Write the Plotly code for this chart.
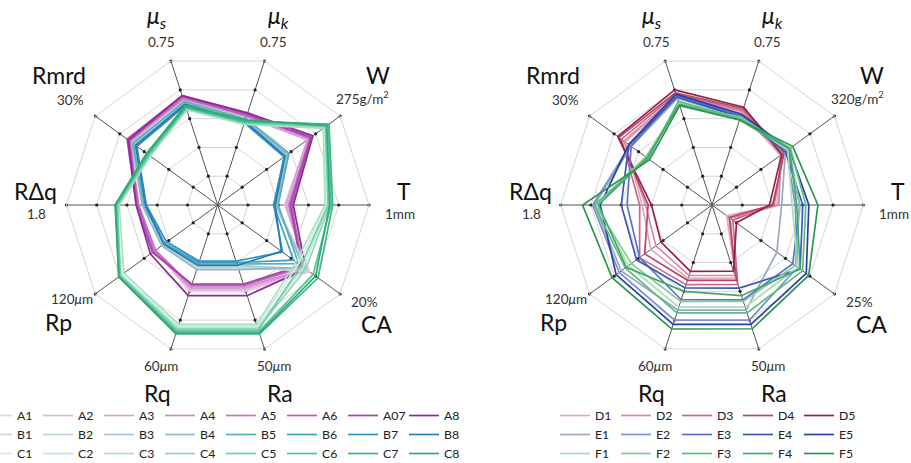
import plotly.graph_objects as go

# ---------------- data ----------------
AXES = ["mu_s", "mu_k", "W", "T", "CA", "Ra", "Rq", "Rp", "RDq", "Rmrd"]
AXIS_TITLES = ["<i>μ</i><sub><i>s</i></sub>", "<i>μ</i><sub><i>k</i></sub>", "W", "T", "CA",
               "Ra", "Rq", "Rp", "RΔq", "Rmrd"]

LEFT_MAX = [0.75, 0.75, 275, 1.0, 20, 50, 60, 120, 1.8, 30]
LEFT_MAX_LABELS = ["0.75", "0.75", "275g/m<sup>2</sup>", "1mm", "20%", "50<i>μ</i>m",
                   "60<i>μ</i>m", "120<i>μ</i>m", "1.8", "30%"]
RIGHT_MAX = [0.75, 0.75, 320, 1.0, 25, 50, 60, 120, 1.8, 30]
RIGHT_MAX_LABELS = ["0.75", "0.75", "320g/m<sup>2</sup>", "1mm", "25%", "50<i>μ</i>m",
                    "60<i>μ</i>m", "120<i>μ</i>m", "1.8", "30%"]

RING_LEVELS = [0.2, 0.4, 0.6, 0.8, 1.0]

# values in physical units, order of AXES
A1 = [0.550, 0.460, 203, 0.44, 15.0, 30.0, 36.0, 61, 0.94, 21.3]
A2 = [0.555, 0.465, 206, 0.46, 14.8, 29.5, 35.4, 62, 0.94, 21.6]
A3 = [0.550, 0.460, 201, 0.45, 14.6, 29.0, 34.8, 61, 0.95, 21.3]
A4 = [0.560, 0.465, 209, 0.47, 14.4, 28.5, 34.2, 62, 0.95, 21.6]
A5 = [0.555, 0.470, 206, 0.47, 14.0, 28.0, 33.6, 61, 0.94, 21.9]
A6 = [0.565, 0.465, 212, 0.49, 13.8, 27.8, 33.3, 63, 0.95, 21.6]
A07 = [0.570, 0.475, 209, 0.48, 13.6, 27.5, 33.0, 64, 0.97, 22.2]
A8 = [0.570, 0.480, 214, 0.50, 14.4, 31.5, 37.8, 66, 0.97, 21.9]

B1 = [0.525, 0.435, 157, 0.38, 15.0, 21.5, 25.8, 53, 0.86, 20.4]
B2 = [0.533, 0.443, 160, 0.39, 14.6, 22.0, 26.4, 54, 0.88, 20.7]
B3 = [0.525, 0.435, 154, 0.38, 14.4, 21.0, 25.2, 53, 0.86, 20.4]
B4 = [0.533, 0.443, 157, 0.39, 14.0, 22.5, 27.0, 55, 0.90, 21.0]
B5 = [0.540, 0.450, 160, 0.40, 13.2, 20.5, 24.6, 52, 0.88, 20.7]
B6 = [0.525, 0.435, 151, 0.37, 12.4, 20.0, 24.0, 52, 0.85, 20.1]
B7 = [0.518, 0.428, 149, 0.37, 10.6, 19.5, 23.4, 50, 0.85, 19.8]
B8 = [0.525, 0.435, 151, 0.38, 10.4, 21.0, 25.2, 53, 0.86, 20.1]

C1 = [0.503, 0.428, 239, 0.72, 13.2, 42.0, 50.4, 94, 1.19, 16.8]
C2 = [0.510, 0.435, 242, 0.73, 14.0, 42.5, 51.0, 95, 1.21, 17.1]
C3 = [0.495, 0.420, 237, 0.71, 12.8, 41.5, 49.8, 92, 1.17, 16.5]
C4 = [0.510, 0.435, 245, 0.74, 14.4, 43.0, 51.6, 95, 1.21, 17.1]
C5 = [0.503, 0.428, 242, 0.73, 13.6, 43.5, 52.2, 96, 1.19, 16.8]
C6 = [0.518, 0.443, 248, 0.75, 15.6, 44.0, 52.8, 96, 1.22, 17.4]
C7 = [0.510, 0.435, 250, 0.76, 16.4, 44.8, 53.7, 97, 1.21, 17.1]
C8 = [0.518, 0.443, 245, 0.74, 16.0, 44.5, 53.4, 97, 1.22, 17.4]

D1 = [0.563, 0.480, 179, 0.43, 3.00, 25.5, 30.6, 60, 0.83, 21.3]
D2 = [0.570, 0.488, 182, 0.44, 3.75, 24.5, 29.4, 55, 0.79, 21.6]
D3 = [0.578, 0.495, 186, 0.41, 4.25, 27.6, 33.2, 71, 0.86, 22.2]
D4 = [0.585, 0.503, 189, 0.40, 3.50, 26.2, 31.4, 66, 0.76, 22.8]
D5 = [0.600, 0.510, 182, 0.38, 5.00, 23.0, 27.7, 50, 0.72, 23.1]

E1 = [0.555, 0.458, 192, 0.46, 13.25, 36.5, 43.8, 89, 1.40, 19.8]
E2 = [0.563, 0.465, 195, 0.55, 17.50, 40.0, 48.0, 91, 1.42, 20.1]
E3 = [0.570, 0.465, 198, 0.58, 16.50, 33.0, 39.5, 71, 1.01, 19.8]
E4 = [0.563, 0.458, 192, 0.60, 18.00, 28.9, 34.6, 74, 1.08, 20.4]
E5 = [0.578, 0.473, 202, 0.64, 19.25, 41.5, 49.8, 94, 1.33, 20.4]

F1 = [0.533, 0.450, 198, 0.53, 17.50, 35.5, 42.6, 82, 1.37, 15.9]
F2 = [0.525, 0.458, 202, 0.58, 17.00, 33.5, 40.2, 79, 1.39, 16.2]
F3 = [0.540, 0.450, 205, 0.62, 18.50, 37.5, 45.0, 85, 1.40, 15.6]
F4 = [0.525, 0.443, 202, 0.56, 18.00, 31.5, 36.0, 84, 1.35, 15.9]
F5 = [0.518, 0.443, 211, 0.70, 19.75, 43.0, 51.7, 98, 1.54, 15.3]

LEFT_SERIES = [("A1", A1), ("A2", A2), ("A3", A3), ("A4", A4), ("A5", A5), ("A6", A6), ("A07", A07), ("A8", A8),
               ("B1", B1), ("B2", B2), ("B3", B3), ("B4", B4), ("B5", B5), ("B6", B6), ("B7", B7), ("B8", B8),
               ("C1", C1), ("C2", C2), ("C3", C3), ("C4", C4), ("C5", C5), ("C6", C6), ("C7", C7), ("C8", C8)]
RIGHT_SERIES = [("D1", D1), ("D2", D2), ("D3", D3), ("D4", D4), ("D5", D5),
                ("E1", E1), ("E2", E2), ("E3", E3), ("E4", E4), ("E5", E5),
                ("F1", F1), ("F2", F2), ("F3", F3), ("F4", F4), ("F5", F5)]

# ---------------- styles ----------------
LEFT_COLORS = ["#ebcde6", "#e2b6dc", "#d9a0d3", "#cf8bca", "#c575c1", "#b95eb8", "#a844ab", "#8f2a98",
               "#cdd8de", "#bdd2d9", "#a9c8d2", "#8fbac6", "#55b3b6", "#3fa2c2", "#3292c6", "#2a7cb8",
               "#d3eee2", "#c0e7d6", "#abe0c8", "#8fd7b6", "#70cda5", "#53c395", "#3db786", "#2ea978"]
RIGHT_COLORS = ["#e2a9ba", "#d78aa1", "#ca6a88", "#b6466e", "#96234b",
                "#9aa9be", "#7a90d2", "#5b74c9", "#3d58b9", "#2b3fa1",
                "#abdcb9", "#83cc99", "#5fbc81", "#42a96a", "#2b9552"]
LEFT_COLS = 8
RIGHT_COLS = 5

W_PX, H_PX = 911, 463
MB = 70
H_PLOT = H_PX - MB
RADIUS = 151.3
LEFT_C = (217.7, 205.0)
RIGHT_C = (712.0, 205.0)
FONT = "Lato, 'DejaVu Sans', sans-serif"

# label offsets (px, from centre): (name_dx, name_dy, value_dx, value_dy)
LABEL_OFFSETS = [(-60.5, -189, -56, -163), (60.5, -189, 55.5, -163), (160, -130, 145, -107),
                 (186, -14, 182, 9), (159, 119, 147, 97), (62, 188, 56, 161), (-60.5, 188, -56.7, 161),
                 (-159, 117, -146, 94), (-182, -14, -181, 9), (-159, -130, -147, -105)]


def to_paper(px, py):
    return px / W_PX, (H_PLOT - py) / H_PLOT


fig = go.Figure()


def add_chart(polar_id, series, maxima, colors, ncols, legend_id, prefix):
    theta = AXES + [AXES[0]]
    # ring tick dots
    fig.add_trace(go.Scatterpolar(
        r=[lv for _ in AXES for lv in RING_LEVELS],
        theta=[a for a in AXES for _ in RING_LEVELS],
        mode="markers", marker=dict(size=3.2, color="#222"),
        subplot=polar_id, showlegend=False, hoverinfo="skip"))
    for i, (name, vals) in enumerate(series):
        r = [v / m for v, m in zip(vals, maxima)]
        fig.add_trace(go.Scatterpolar(
            r=r + [r[0]], theta=theta, mode="lines", name=name,
            line=dict(color=colors[i], width=1.7),
            subplot=polar_id, legend=legend_id,
            legendgroup=f"{prefix}{i % ncols}"))


add_chart("polar", LEFT_SERIES, LEFT_MAX, LEFT_COLORS, LEFT_COLS, "legend", "L")
add_chart("polar2", RIGHT_SERIES, RIGHT_MAX, RIGHT_COLORS, RIGHT_COLS, "legend2", "R")


def polar_layout(c):
    cx, cy = c
    x0, _ = to_paper(cx - RADIUS, 0)
    x1, _ = to_paper(cx + RADIUS, 0)
    _, y0 = to_paper(0, cy + RADIUS)
    _, y1 = to_paper(0, cy - RADIUS)
    return dict(
        domain=dict(x=[x0, x1], y=[y0, y1]),
        gridshape="linear",
        bgcolor="white",
        radialaxis=dict(range=[0, 1], tickvals=RING_LEVELS, showticklabels=False, ticks="",
                        showline=False, gridcolor="#d6d6d6", gridwidth=1),
        angularaxis=dict(type="category", categoryarray=AXES, rotation=108, direction="clockwise",
                         showticklabels=False, ticks="", showline=True, linecolor="#d6d6d6",
                         linewidth=1, gridcolor="#555555", gridwidth=1),
    )


annotations = []
for c, labels in ((LEFT_C, LEFT_MAX_LABELS), (RIGHT_C, RIGHT_MAX_LABELS)):
    for title, lab, (ndx, ndy, vdx, vdy) in zip(AXIS_TITLES, labels, LABEL_OFFSETS):
        nx, ny = to_paper(c[0] + ndx, c[1] + ndy)
        vx, vy = to_paper(c[0] + vdx, c[1] + vdy)
        annotations.append(dict(x=nx, y=ny, xref="paper", yref="paper", text=title, showarrow=False,
                                xanchor="center", yanchor="middle",
                                font=dict(family=FONT, size=23, color="#111")))
        annotations.append(dict(x=vx, y=vy, xref="paper", yref="paper", text=lab, showarrow=False,
                                xanchor="center", yanchor="middle",
                                font=dict(family=FONT, size=13.5, color="#333")))

leg_y = to_paper(0, 401.0)[1]
legend_common = dict(orientation="h", traceorder="grouped", xanchor="left", yanchor="top", y=leg_y,
                     entrywidth=16, entrywidthmode="pixels", tracegroupgap=0, bgcolor="rgba(0,0,0,0)",
                     font=dict(family=FONT, size=12.3, color="#222"))

fig.update_layout(
    width=W_PX, height=H_PX,
    margin=dict(l=0, r=0, t=0, b=MB, autoexpand=False),
    paper_bgcolor="white",
    font=dict(family=FONT),
    polar=polar_layout(LEFT_C),
    polar2=polar_layout(RIGHT_C),
    annotations=annotations,
    legend=dict(x=-23 / W_PX, **legend_common),
    legend2=dict(x=555 / W_PX, **legend_common),
)

fig.write_html("out.html", config={"displayModeBar": False},
               post_script="document.body.style.margin='0px';")
